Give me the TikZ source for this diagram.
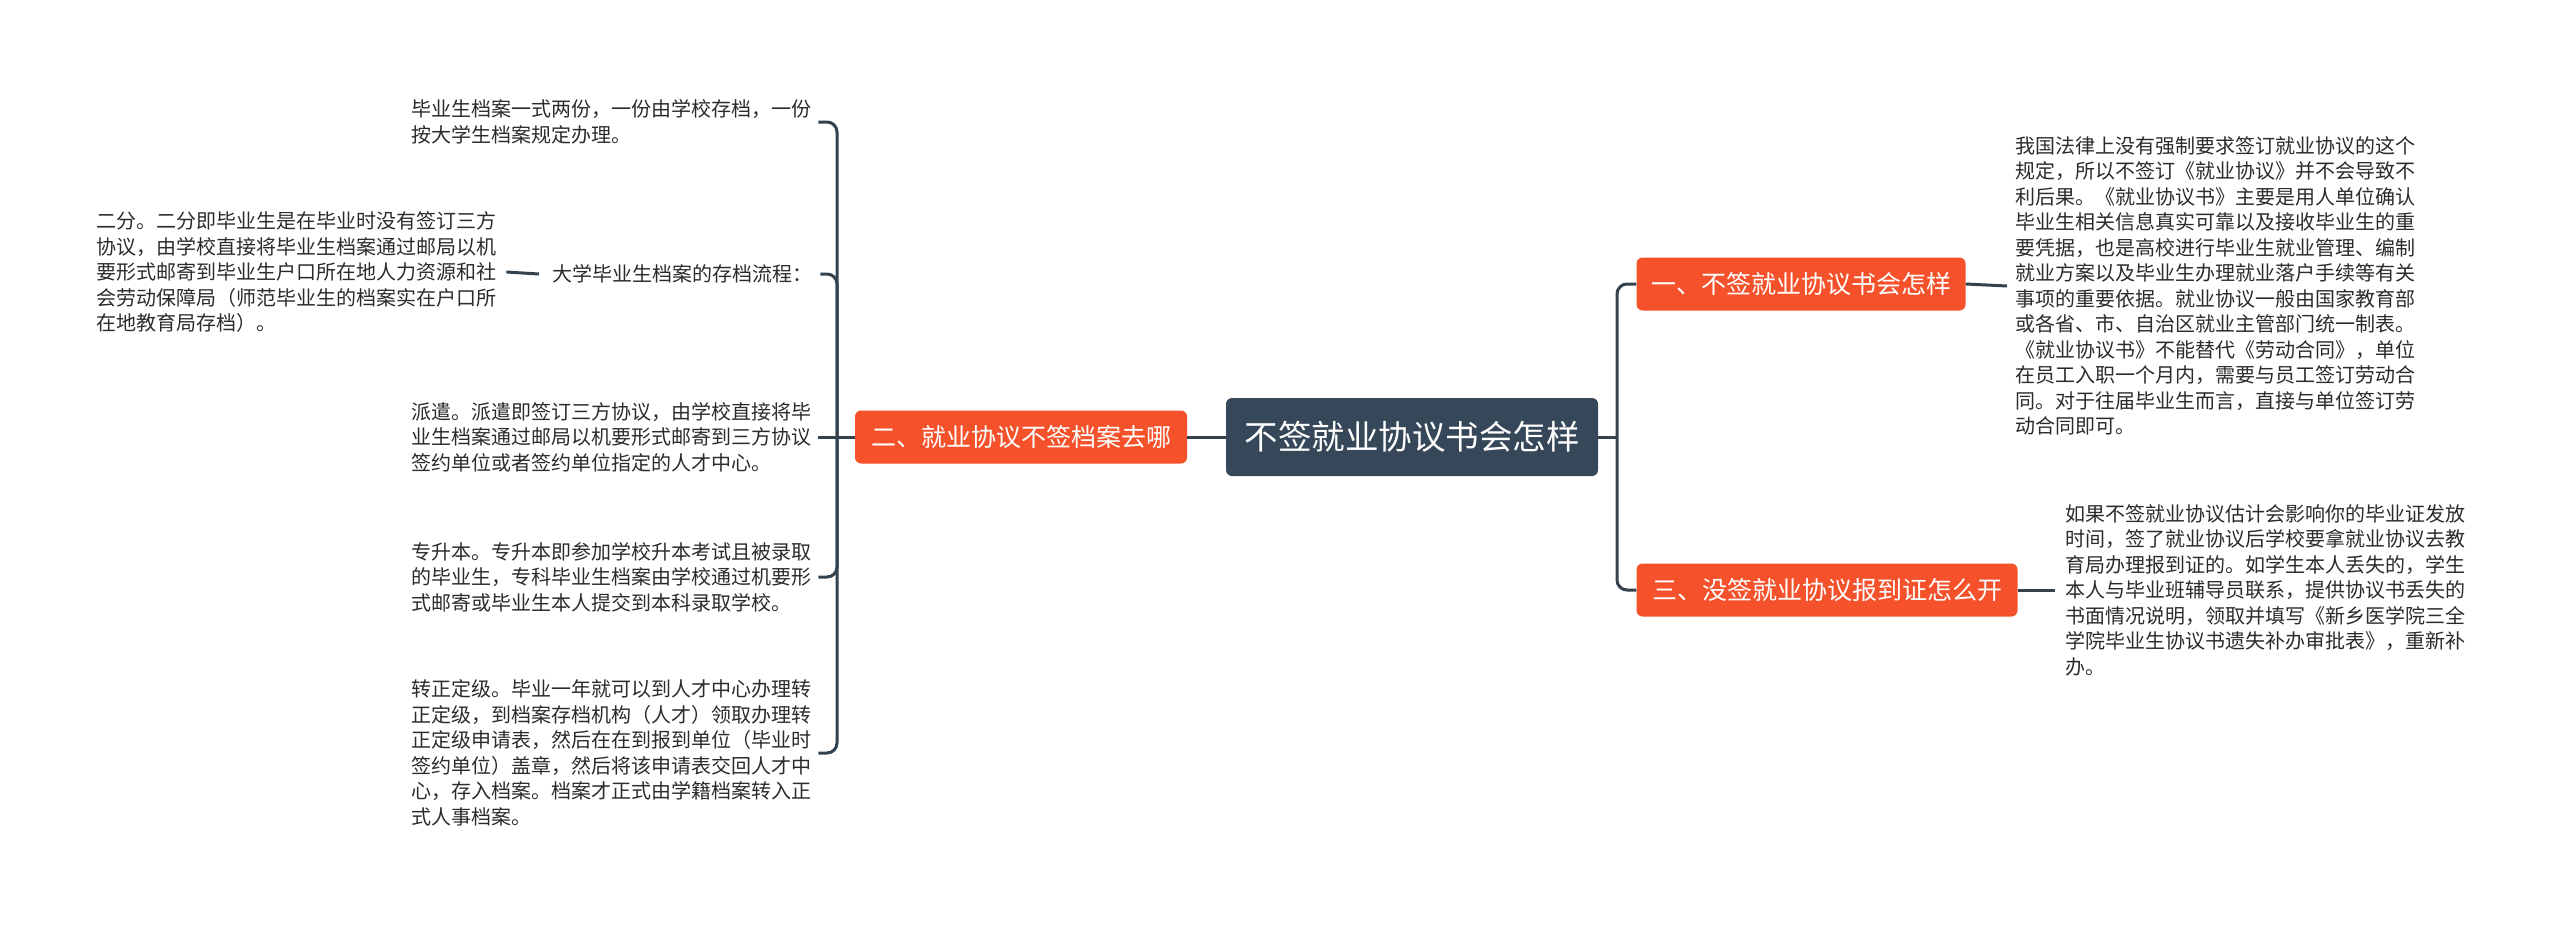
\documentclass[tikz,border=0pt]{standalone}
\usepackage{fontspec}
\setmainfont{Noto Sans CJK SC}
\definecolor{RootClr}{rgb}{0.21,0.28,0.35}
\definecolor{TopicClr}{rgb}{0.96,0.32,0.17}
\definecolor{LineClr}{rgb}{0.20,0.26,0.31}
\definecolor{TextClr}{rgb}{0.17,0.17,0.17}

\begin{document}
\begin{tikzpicture}[x=1pt,y=-1pt,
  rootbox/.style={fill=RootClr,text=white,rounded corners=6pt,minimum width=372pt,minimum height=78pt,font=\fontsize{33.5}{40}\selectfont},
  topicbox/.style={fill=TopicClr,text=white,rounded corners=6pt,minimum height=53pt,font=\fontsize{25}{30}\selectfont},
  leaf/.style={anchor=west,inner sep=0pt,align=left,text=TextClr,font=\fontsize{20}{25.5}\selectfont},
  link/.style={draw=LineClr,line width=3pt,rounded corners=10pt}]
\useasboundingbox (0,0) rectangle (2560,926);

\node[rootbox] (root) at (1412,437) {不签就业协议书会怎样};
\node[topicbox,minimum width=332pt] (t2) at (1021,437) {二、就业协议不签档案去哪};
\node[topicbox,minimum width=329pt] (t1) at (1801,284) {一、不签就业协议书会怎样};
\node[topicbox,minimum width=381pt] (t3) at (1827,590) {三、没签就业协议报到证怎么开};

\coordinate (lj) at (837,437);
\coordinate (rj) at (1617,437);

\node[leaf] (l1) at (411,122) {毕业生档案一式两份，一份由学校存档，一份\\
按大学生档案规定办理。};
\node[leaf] (s2) at (552,274) {大学毕业生档案的存档流程：};
\node[leaf] (d2) at (96,272) {二分。二分即毕业生是在毕业时没有签订三方\\
协议，由学校直接将毕业生档案通过邮局以机\\
要形式邮寄到毕业生户口所在地人力资源和社\\
会劳动保障局（师范毕业生的档案实在户口所\\
在地教育局存档）。};
\node[leaf] (l3) at (411,437) {派遣。派遣即签订三方协议，由学校直接将毕\\
业生档案通过邮局以机要形式邮寄到三方协议\\
签约单位或者签约单位指定的人才中心。};
\node[leaf] (l4) at (411,577) {专升本。专升本即参加学校升本考试且被录取\\
的毕业生，专科毕业生档案由学校通过机要形\\
式邮寄或毕业生本人提交到本科录取学校。};
\node[leaf] (l5) at (411,753) {转正定级。毕业一年就可以到人才中心办理转\\
正定级，到档案存档机构（人才）领取办理转\\
正定级申请表，然后在在到报到单位（毕业时\\
签约单位）盖章，然后将该申请表交回人才中\\
心，存入档案。档案才正式由学籍档案转入正\\
式人事档案。};

\node[leaf] (r1) at (2015,286) {我国法律上没有强制要求签订就业协议的这个\\
规定，所以不签订《就业协议》并不会导致不\\
利后果。《就业协议书》主要是用人单位确认\\
毕业生相关信息真实可靠以及接收毕业生的重\\
要凭据，也是高校进行毕业生就业管理、编制\\
就业方案以及毕业生办理就业落户手续等有关\\
事项的重要依据。就业协议一般由国家教育部\\
或各省、市、自治区就业主管部门统一制表。\\
《就业协议书》不能替代《劳动合同》，单位\\
在员工入职一个月内，需要与员工签订劳动合\\
同。对于往届毕业生而言，直接与单位签订劳\\
动合同即可。};
\node[leaf] (r3) at (2065,590) {如果不签就业协议估计会影响你的毕业证发放\\
时间，签了就业协议后学校要拿就业协议去教\\
育局办理报到证的。如学生本人丢失的，学生\\
本人与毕业班辅导员联系，提供协议书丢失的\\
书面情况说明，领取并填写《新乡医学院三全\\
学院毕业生协议书遗失补办审批表》，重新补\\
办。};

\draw[link] (root.west) -- (t2.east);
\draw[link] (t2.west) -- (lj) -- ([xshift=7pt]l3.east);
\foreach \n/\s in {l1/7,s2/8,l4/7,l5/7}
  \draw[link] (lj) |- ([xshift=\s pt]\n.east);
\draw[link] ([xshift=10pt]d2.east) -- ([xshift=-13pt]s2.west);

\draw[link] (root.east) -- (rj);
\foreach \n in {t1,t3}
  \draw[link] (rj) |- (\n.west);
\draw[link] (t1.east) -- ([xshift=-8pt]r1.west);
\draw[link] (t3.east) -- ([xshift=-10pt]r3.west);

\end{tikzpicture}
\end{document}
